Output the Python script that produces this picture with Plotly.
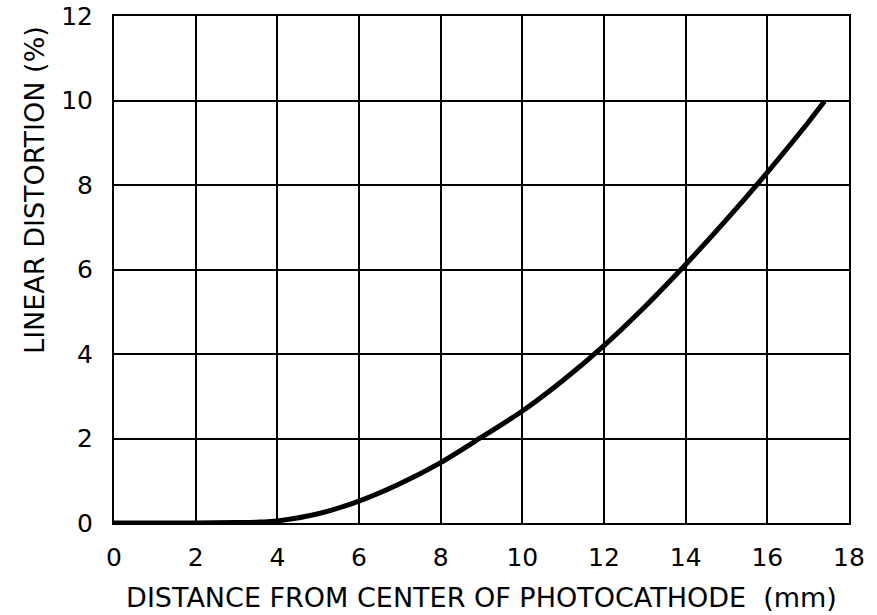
import plotly.graph_objects as go

distance_mm = [0, 1, 2, 3, 3.5, 4, 5, 6, 7, 8, 9, 10, 11, 12, 13, 14, 15, 16, 17, 17.4]
distortion_pct = [0, 0, 0, 0.01, 0.02, 0.05, 0.22, 0.52, 0.93, 1.43, 2.03, 2.65, 3.38, 4.2,
                  5.12, 6.12, 7.18, 8.3, 9.48, 9.98]
x_ticks = [0, 2, 4, 6, 8, 10, 12, 14, 16, 18]
y_ticks = [0, 2, 4, 6, 8, 10, 12]
x_title = "DISTANCE FROM CENTER OF PHOTOCATHODE  (mm)"
y_title = "LINEAR DISTORTION (%)"

FONT = "DejaVu Sans"

fig = go.Figure()
fig.add_trace(go.Scatter(
    x=distance_mm, y=distortion_pct, mode="lines",
    line=dict(color="black", width=5, shape="spline", smoothing=0.8),
    showlegend=False, hoverinfo="skip",
))

axis_common = dict(
    showgrid=True, gridcolor="black", gridwidth=2,
    showline=True, linecolor="black", linewidth=2, mirror=True,
    zeroline=False, ticks="", color="black", automargin=False,
    ticklabeloverflow="allow",
    tickfont=dict(family=FONT, size=25, color="black"),
)

fig.update_xaxes(range=[0, 18], tickvals=x_ticks, ticklabelstandoff=11,
                 title=dict(text=x_title, font=dict(family=FONT, size=27, color="black"), standoff=17),
                 **axis_common)
fig.update_yaxes(range=[0, 12], tickvals=y_ticks, ticklabelstandoff=14,
                 **axis_common)

fig.add_annotation(text=y_title, xref="paper", yref="paper", x=-0.1075, y=0.657,
                   xanchor="center", yanchor="middle",
                   textangle=-90, showarrow=False,
                   font=dict(family=FONT, size=27, color="black"))

fig.update_layout(
    width=877, height=615,
    margin=dict(l=114, r=28, t=16, b=92),
    plot_bgcolor="white", paper_bgcolor="white",
)

fig.write_html("out.html",
               config={"displayModeBar": False, "staticPlot": True},
               post_script="document.body.style.margin='0';document.body.style.overflow='hidden';")
